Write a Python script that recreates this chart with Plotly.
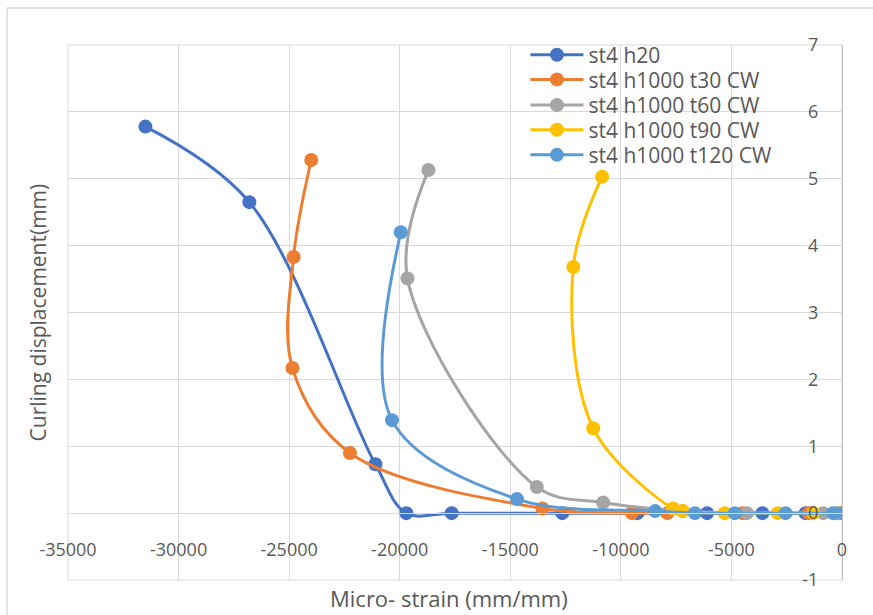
import plotly.graph_objects as go

# ---- data ----
names = ["st4 h20", "st4 h1000 t30 CW", "st4 h1000 t60 CW", "st4 h1000 t90 CW", "st4 h1000 t120 CW"]
colors = ["#4472C4", "#ED7D31", "#A5A5A5", "#FFC000", "#5B9BD5"]

h20_x = [-31500, -26800, -21100, -19700, -17650, -12650, -9250, -6100, -3600, -1650, -200]
h20_y = [5.78, 4.65, 0.73, 0.0, 0.0, 0.0, 0.0, 0.0, 0.0, 0.0, 0.0]

t30_x = [-24000, -24800, -24850, -22250, -13550, -9500, -7900, -4500, -1500, 0]
t30_y = [5.28, 3.83, 2.17, 0.90, 0.07, 0.0, 0.0, 0.0, 0.0, 0.0]

t60_x = [-18700, -19650, -13800, -10800, -7200, -4300, -850]
t60_y = [5.13, 3.51, 0.39, 0.16, 0.03, 0.0, 0.0]

t90_x = [-10850, -12150, -11250, -7650, -7200, -5300, -2900, -1300, -100]
t90_y = [5.03, 3.68, 1.27, 0.07, 0.03, 0.0, 0.0, 0.0, 0.0]

t120_x = [-19950, -20350, -14700, -8450, -6650, -4850, -2550, -400, 0]
t120_y = [4.20, 1.39, 0.21, 0.03, 0.0, 0.0, 0.0, 0.0, 0.0]

xs = [h20_x, t30_x, t60_x, t90_x, t120_x]
ys = [h20_y, t30_y, t60_y, t90_y, t120_y]

x_ticks = [-35000, -30000, -25000, -20000, -15000, -10000, -5000, 0]
y_ticks = [-1, 0, 1, 2, 3, 4, 5, 6, 7]

FONT = "Open Sans"
TXT = "#595959"
GRID = "#D9D9D9"

legend_ids = ["legend", "legend2", "legend3", "legend4", "legend5"]
legend_rows = [0.981, 0.935, 0.887, 0.841, 0.794]

fig = go.Figure()
for n, c, x, y, lg in zip(names, colors, xs, ys, legend_ids):
    fig.add_trace(go.Scatter(
        x=x, y=y, name=n, mode="lines+markers", legend=lg,
        line=dict(color=c, width=3, shape="spline", smoothing=1),
        marker=dict(color=c, size=14),
    ))

legend_common = dict(x=0.591, xanchor="left", yanchor="middle",
                     bgcolor="rgba(0,0,0,0)", font=dict(size=21, color=TXT, family=FONT),
                     itemwidth=53, borderwidth=0)
legends = {lg: dict(y=yy, **legend_common) for lg, yy in zip(legend_ids, legend_rows)}

fig.update_layout(
    width=873, height=615,
    margin=dict(l=68, r=31, t=45, b=35),
    paper_bgcolor="white", plot_bgcolor="white",
    font=dict(family=FONT, color=TXT, size=18),
    showlegend=True,
    xaxis=dict(range=[-35000, 0], tickvals=x_ticks, ticktext=[str(v) for v in x_ticks],
               showgrid=True, gridcolor=GRID, gridwidth=1, zeroline=False,
               showline=True, linecolor=GRID, linewidth=1,
               anchor="free", position=0.125, side="bottom",
               ticks="", ticklabelstandoff=20,
               tickfont=dict(size=18, color=TXT)),
    yaxis=dict(range=[-1, 7], tickvals=y_ticks, ticktext=[str(v) for v in y_ticks],
               domain=[0, 1], anchor="free", position=1.0, side="left",
               showgrid=True, gridcolor=GRID, gridwidth=1, zeroline=False,
               showline=True, linecolor="#BFBFBF", linewidth=1,
               ticks="", ticklabelstandoff=20,
               tickfont=dict(size=18, color=TXT)),
    annotations=[
        dict(text="Micro- strain (mm/mm)", x=0.492, y=-0.034, xref="paper", yref="paper",
             showarrow=False, xanchor="center", yanchor="middle",
             font=dict(size=22, color=TXT, family=FONT)),
        dict(text="Curling displacement(mm)", x=-0.0388, y=0.50, xref="paper", yref="paper",
             showarrow=False, xanchor="center", yanchor="middle", textangle=-90,
             font=dict(size=21, color=TXT, family=FONT)),
    ],
    shapes=[
        dict(type="rect", xref="paper", yref="paper", x0=0, x1=1, y0=0, y1=1,
             line=dict(color=GRID, width=1), layer="below"),
        dict(type="line", xref="paper", yref="paper", x0=-0.0788, x1=1.2, y0=1.069, y1=1.069,
             line=dict(color=GRID, width=1.5)),
        dict(type="line", xref="paper", yref="paper", x0=-0.0788, x1=-0.0788, y0=-0.2, y1=1.069,
             line=dict(color=GRID, width=1.5)),
    ],
    **legends,
)

fig.write_html("out.html")
